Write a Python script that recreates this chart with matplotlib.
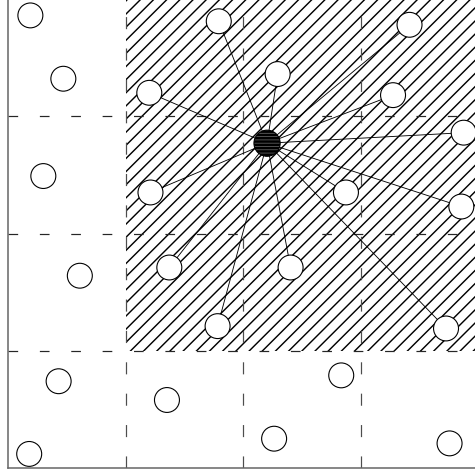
import matplotlib
matplotlib.use("Agg")
import matplotlib.pyplot as plt
import numpy as np
from matplotlib.patches import Circle, Rectangle
from matplotlib.collections import LineCollection

# grid size (4 x 4 cells) and the hatched block
grid_n = 4
hatch_x = (1, 4)
hatch_y = (1, 4)

# the black centre point
center = (2.20, 2.77)

# points joined to the centre (inside the hatched block)
linked_x = [1.79, 1.20, 2.29, 3.41, 3.27, 3.87, 1.21, 2.87, 3.85, 1.37, 2.40, 1.78, 3.72]
linked_y = [3.81, 3.20, 3.36, 3.78, 3.18, 2.86, 2.35, 2.35, 2.23, 1.71, 1.71, 1.21, 1.19]

# points outside the hatched block
free_x = [0.19, 0.47, 0.30, 0.61, 0.43, 0.18, 2.83, 1.35, 2.26, 3.75]
free_y = [3.86, 3.32, 2.49, 1.64, 0.74, 0.12, 0.79, 0.58, 0.25, 0.21]

radius = 0.106
hatch_step = 0.112  # horizontal gap between hatch lines (data units)
DPI = 79


def main():
    fig = plt.figure(figsize=(475 / DPI, 473 / DPI), dpi=DPI)
    ax = fig.add_axes([8 / 475, 5 / 473, 471 / 475, 469 / 473])
    ax.set_xlim(0, grid_n)
    ax.set_ylim(0, grid_n)

    # hatched block: diagonal lines clipped to the rectangle
    rect = Rectangle((hatch_x[0], hatch_y[0]), hatch_x[1] - hatch_x[0],
                     hatch_y[1] - hatch_y[0], fill=False, linewidth=0, zorder=1)
    ax.add_patch(rect)
    offsets = np.arange(2.87 - 60 * hatch_step, 2.87 + 2 * hatch_step, hatch_step)
    segs = [[(0, c), (grid_n, grid_n + c)] for c in offsets]
    lc = LineCollection(segs, colors='black', linewidths=1.3, zorder=1)
    ax.add_collection(lc)
    lc.set_clip_path(rect)

    for k in range(1, grid_n):
        ax.axvline(k, color='0.3', lw=1.1, dashes=(10, 16), zorder=2)
        ax.axhline(k, color='0.15', lw=1.1, dashes=(8, 18), zorder=2)

    for x, y in zip(linked_x, linked_y):
        ax.plot([center[0], x], [center[1], y], color='black', lw=0.8, zorder=3)

    for x, y in zip(linked_x + free_x, linked_y + free_y):
        ax.add_patch(Circle((x, y), radius, facecolor='white',
                            edgecolor='black', lw=1.0, zorder=4))

    # centre: black disc with faint grey stripes
    plt.rcParams['hatch.linewidth'] = 0.7
    ax.add_patch(Circle(center, radius * 1.05, facecolor='black',
                        edgecolor='0.4', hatch='----', lw=0, zorder=5))
    ax.add_patch(Circle(center, radius * 1.05, fill=False,
                        edgecolor='black', lw=1.0, zorder=6))

    ax.set_xticks([])
    ax.set_yticks([])
    for s in ax.spines.values():
        s.set_color('0.4')
        s.set_linewidth(1.4)

    fig.savefig('out.png', dpi=DPI)


if __name__ == "__main__":
    main()
